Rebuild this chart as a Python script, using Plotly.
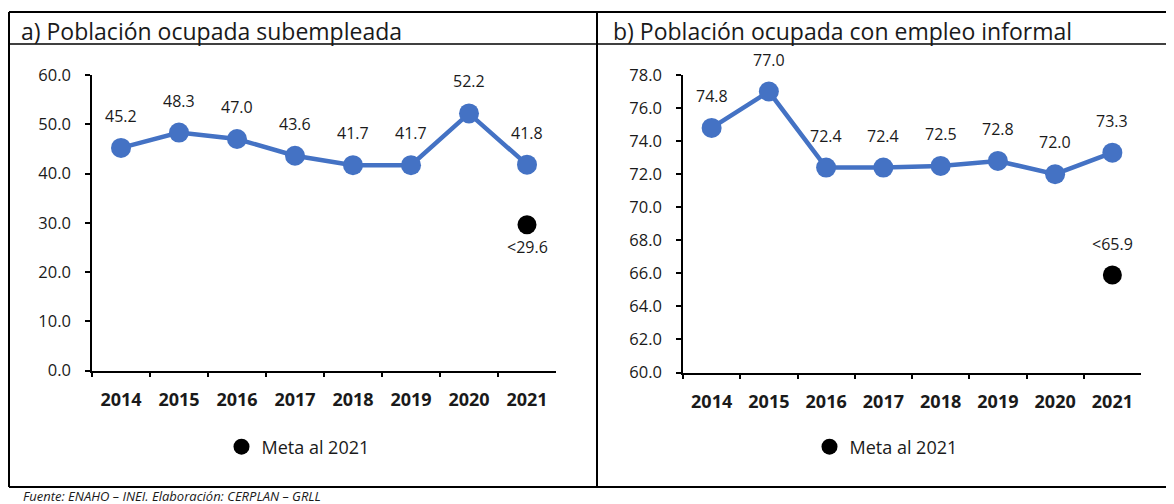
import plotly.graph_objects as go

# ---- data ----
years = ["2014", "2015", "2016", "2017", "2018", "2019", "2020", "2021"]
subempleo = [45.2, 48.3, 47.0, 43.6, 41.7, 41.7, 52.2, 41.8]
informal = [74.8, 77.0, 72.4, 72.4, 72.5, 72.8, 72.0, 73.3]
meta_year = ["2021"]
meta_subempleo = [29.6]
meta_informal = [65.9]
title_a = "a) Población ocupada subempleada"
title_b = "b) Población ocupada con empleo informal"
legend_name = "Meta al 2021"
source = "Fuente: ENAHO – INEI. Elaboración: CERPLAN – GRLL"

# page body has an 8px margin; figure sized to fit the window
OFF = 8
W, H = 1174 - OFF, 504 - OFF
FONT = "Open Sans"
BLUE = "#4472C4"
TXT = "#1a1a1a"


def px(x):
    return (x - OFF) / W


def py(y):
    return 1 - (y - OFF) / H


fig = go.Figure()

fig.add_trace(go.Scatter(x=years, y=subempleo, mode="lines+markers",
                         line=dict(color=BLUE, width=4.5),
                         marker=dict(color=BLUE, size=20),
                         xaxis="x", yaxis="y", showlegend=False, hoverinfo="x+y"))
fig.add_trace(go.Scatter(x=meta_year, y=meta_subempleo, mode="markers",
                         marker=dict(color="black", size=19), name=legend_name,
                         xaxis="x", yaxis="y", legend="legend"))
fig.add_trace(go.Scatter(x=years, y=informal, mode="lines+markers",
                         line=dict(color=BLUE, width=4.5),
                         marker=dict(color=BLUE, size=20),
                         xaxis="x2", yaxis="y2", showlegend=False, hoverinfo="x+y"))
fig.add_trace(go.Scatter(x=meta_year, y=meta_informal, mode="markers",
                         marker=dict(color="black", size=19), name=legend_name,
                         xaxis="x2", yaxis="y2", legend="legend2"))

LBL = dict(family=FONT, size=16, color=TXT)
annotations = []
for ys, xr, yr in [(subempleo, "x", "y"), (informal, "x2", "y2")]:
    for i, yv in enumerate(ys):
        annotations.append(dict(x=i, y=yv, xref=xr, yref=yr, text=f"{yv:.1f}",
                                showarrow=False, yshift=32, font=LBL))
mi = years.index(meta_year[0])
annotations.append(dict(x=mi, y=meta_subempleo[0], xref="x", yref="y",
                        text=f"<{meta_subempleo[0]:.1f}", showarrow=False, yshift=-22,
                        font=LBL))
annotations.append(dict(x=mi, y=meta_informal[0], xref="x2", yref="y2",
                        text=f"<{meta_informal[0]:.1f}", showarrow=False, yshift=31,
                        font=LBL))
annotations.append(dict(x=px(19), y=py(31), xref="paper", yref="paper", text=title_a,
                        showarrow=False, xanchor="left", yanchor="middle",
                        font=dict(family=FONT, size=23, color=TXT)))
annotations.append(dict(x=px(611), y=py(31), xref="paper", yref="paper", text=title_b,
                        showarrow=False, xanchor="left", yanchor="middle",
                        font=dict(family=FONT, size=23, color=TXT)))
annotations.append(dict(x=px(21), y=py(496), xref="paper", yref="paper", text=source,
                        showarrow=False, xanchor="left", yanchor="middle",
                        font=dict(family=FONT, size=13, color=TXT, style="italic")))

line = dict(color="black", width=2)
shapes = [
    dict(type="line", xref="paper", yref="paper", x0=px(9), x1=1, y0=py(12), y1=py(12), line=line),
    dict(type="line", xref="paper", yref="paper", x0=px(9), x1=px(9), y0=py(12), y1=py(487), line=line),
    dict(type="line", xref="paper", yref="paper", x0=px(9), x1=1, y0=py(487), y1=py(487), line=line),
    dict(type="line", xref="paper", yref="paper", x0=px(597), x1=px(597), y0=py(12), y1=py(487), line=line),
    dict(type="line", xref="paper", yref="paper", x0=px(9), x1=px(1172), y0=py(44), y1=py(44),
         line=dict(color="black", width=1.5)),
]

xcommon = dict(type="category", range=[-0.5, 7.5], showline=True, linecolor="black",
               linewidth=1.5, ticks="outside", tickson="boundaries", ticklen=5,
               tickwidth=1.5, tickcolor="black", showgrid=False, zeroline=False,
               automargin=False, ticklabelstandoff=12,
               tickfont=dict(family=FONT, size=18, color=TXT, weight="bold"))
ycommon = dict(showline=True, linecolor="black", linewidth=1.5, ticks="outside",
               ticklen=5, tickwidth=1.5, tickcolor="black", showgrid=False,
               zeroline=False, tickformat=".1f", automargin=False,
               ticklabelstandoff=11,
               tickfont=dict(family=FONT, size=16.5, color=TXT))

LEG = dict(family=FONT, size=18, color=TXT)
fig.update_layout(
    template="none",
    width=W, height=H, autosize=False,
    margin=dict(l=0, r=0, t=0, b=0, pad=0),
    paper_bgcolor="white", plot_bgcolor="white",
    font=dict(family=FONT, color=TXT),
    xaxis=dict(domain=[px(92), px(556)], anchor="y", **xcommon),
    yaxis=dict(domain=[py(370.5), py(75)], anchor="x", range=[0, 60], dtick=10, **ycommon),
    xaxis2=dict(domain=[px(683), px(1141)], anchor="y2", **xcommon),
    yaxis2=dict(domain=[py(372.5), py(75)], anchor="x2", range=[60, 78], dtick=2, **ycommon),
    legend=dict(x=px(298), y=py(447), xanchor="center", yanchor="middle",
                font=LEG, bgcolor="rgba(0,0,0,0)", itemwidth=30),
    legend2=dict(x=px(886), y=py(447), xanchor="center", yanchor="middle",
                 font=LEG, bgcolor="rgba(0,0,0,0)", itemwidth=30),
    annotations=annotations, shapes=shapes,
)

fig.write_html("out.html")
